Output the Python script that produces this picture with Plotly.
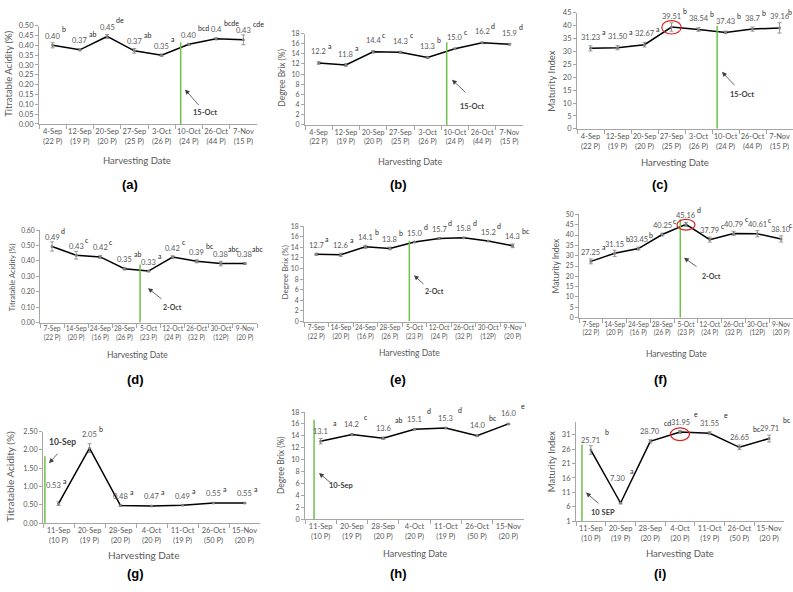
import plotly.graph_objects as go

W, H = 793, 592

# ---------------- data ----------------
row1_dates = ["4-Sep", "12-Sep", "20-Sep", "27-Sep", "3-Oct", "10-Oct", "26-Oct", "7-Nov"]
row1_plants = ["22 P", "19 P", "20 P", "25 P", "26 P", "24 P", "44 P", "15 P"]
row2_dates = ["7-Sep", "14-Sep", "24-Sep", "28-Sep", "5-Oct", "12-Oct", "26-Oct", "30-Oct", "9-Nov"]
row2_plants = ["22 P", "20 P", "16 P", "26 P", "23 P", "24 P", "32 P", "12P", "20 P"]
row3_dates = ["11-Sep", "20-Sep", "28-Sep", "4-Oct", "11-Oct", "26-Oct", "15-Nov"]
row3_plants = ["10 P", "19 P", "20 P", "20 P", "19 P", "50 P", "20 P"]

a_values = [0.40, 0.377, 0.445, 0.372, 0.350, 0.405, 0.433, 0.428]
a_errors = [0.013, 0.005, 0.010, 0.012, 0.006, 0.005, 0.005, 0.025]
a_labels = ["0.40", "0.37", "0.45", "0.37", "0.35", "0.40", "0.4", "0.43"]
a_letters = ["b", "ab", "de", "ab", "a", "bcd", "bcde", "cde"]

b_values = [12.2, 11.8, 14.4, 14.3, 13.3, 15.0, 16.2, 15.9]
b_errors = [0.25, 0.25, 0.25, 0.2, 0.2, 0.1, 0.1, 0.15]
b_labels = ["12.2", "11.8", "14.4", "14.3", "13.3", "15.0", "16.2", "15.9"]
b_letters = ["a", "a", "c", "c", "b", "c", "d", "d"]

c_values = [31.23, 31.50, 32.67, 39.51, 38.54, 37.43, 38.7, 39.16]
c_errors = [1.0, 0.8, 0.9, 1.6, 0.7, 0.5, 0.8, 2.0]
c_labels = ["31.23", "31.50", "32.67", "39.51", "38.54", "37.43", "38.7", "39.16"]
c_letters = ["a", "a", "a", "b", "b", "b", "b", "b"]

d_values = [0.494, 0.437, 0.426, 0.349, 0.334, 0.425, 0.398, 0.383, 0.383]
d_errors = [0.03, 0.025, 0.01, 0.008, 0.005, 0.008, 0.01, 0.015, 0.005]
d_labels = ["0.49", "0.43", "0.42", "0.35", "0.33", "0.42", "0.39", "0.38", "0.38"]
d_letters = ["d", "c", "c", "ab", "a", "c", "bc", "abc", "abc"]

e_values = [12.7, 12.6, 14.1, 13.8, 15.0, 15.7, 15.8, 15.2, 14.3]
e_errors = [0.2, 0.3, 0.3, 0.25, 0.1, 0.15, 0.1, 0.1, 0.35]
e_labels = ["12.7", "12.6", "14.1", "13.8", "15.0", "15.7", "15.8", "15.2", "14.3"]
e_letters = ["a", "a", "b", "b", "d", "d", "d", "d", "bc"]

f_values = [27.25, 31.15, 33.45, 40.25, 45.16, 37.79, 40.79, 40.61, 38.10]
f_errors = [1.2, 1.5, 0.7, 0.7, 1.0, 1.2, 1.0, 1.5, 1.5]
f_labels = ["27.25", "31.15", "33.45", "40.25", "45.16", "37.79", "40.79", "40.61", "38.10"]
f_letters = ["a", "b", "b", "c", "d", "c", "c", "c", "c"]

g_values = [0.53, 2.05, 0.48, 0.47, 0.49, 0.55, 0.55]
g_errors = [0.05, 0.12, 0.02, 0.01, 0.01, 0.01, 0.01]
g_labels = ["0.53", "2.05", "0.48", "0.47", "0.49", "0.55", "0.55"]
g_letters = ["a", "b", "a", "a", "a", "a", "a"]

h_values = [13.1, 14.2, 13.6, 15.1, 15.3, 14.0, 16.0]
h_errors = [0.45, 0.15, 0.2, 0.1, 0.1, 0.1, 0.1]
h_labels = ["13.1", "14.2", "13.6", "15.1", "15.3", "14.0", "16.0"]
h_letters = ["a", "c", "ab", "d", "d", "bc", "e"]

i_values = [25.71, 7.30, 28.70, 31.95, 31.55, 26.65, 29.71]
i_errors = [1.5, 0.3, 0.6, 0.5, 0.5, 0.8, 1.2]
i_labels = ["25.71", "7.30", "28.70", "31.95", "31.55", "26.65", "29.71"]
i_letters = ["b", "a", "cd", "e", "e", "bc", "bc"]

TA = "Titratable Acidity (%)"
BX = "Degree Brix (%)"
MI = "Maturity Index"

# ---------------- panel layout config ----------------
panels = [
    dict(tag="(a)", dates=row1_dates, plants=row1_plants, vals=a_values, errs=a_errors, labels=a_labels, letters=a_letters,
         dom=(39, 257, 21, 121), yr=(0, 0.5), dt=0.05, t0=0, fmt=".2f", yt=TA, ytp=(9, 70), yts=9.5,
         xtp=(137, 158), xts=9.5, tks=7.5, ytks=7.5, vy=9, ly=16, lx=0, green=(4.7, 0.415),
         arrow=((185, 86), (200, 103)), note=("15-Oct", (205, 109), 7.5), circle=None, pl=(130, 183),
         vover={}, lover={}),
    dict(tag="(b)", dates=row1_dates, plants=row1_plants, vals=b_values, errs=b_errors, labels=b_labels, letters=b_letters,
         dom=(305, 523, 29, 122), yr=(0, 18), dt=2, t0=0, fmt="d", yt=BX, ytp=(282, 74), yts=8.5,
         xtp=(410, 159), xts=9, tks=7.2, ytks=7, vy=11, ly=17, lx=0, green=(4.7, 16.3),
         arrow=((452, 76), (467, 90)), note=("15-Oct", (472, 103), 7.5), circle=None, pl=(398, 183),
         vover={}, lover={}),
    dict(tag="(c)", dates=row1_dates, plants=row1_plants, vals=c_values, errs=c_errors, labels=c_labels, letters=c_letters,
         dom=(577, 793, 8, 126), yr=(0, 45), dt=5, t0=0, fmt="d", yt=MI, ytp=(552, 78), yts=9.5,
         xtp=(675, 160), xts=9.5, tks=7.5, ytks=7.5, vy=11, ly=16, lx=0, green=(4.69, 40),
         arrow=((722, 68), (736, 83)), note=("15-Oct", (742, 91), 7.5), circle=(3, 39.4, 0.36, 2.6), pl=(660, 183),
         vover={}, lover={7: -3}),
    dict(tag="(d)", dates=row2_dates, plants=row2_plants, vals=d_values, errs=d_errors, labels=d_labels, letters=d_letters,
         dom=(40, 257, 229, 323), yr=(0, 0.6), dt=0.1, t0=0, fmt=".2f", yt=TA, ytp=(12, 277), yts=7.5,
         xtp=(137, 356), xts=8.5, tks=6.6, ytks=6.8, vy=9, ly=15, lx=0, green=(3.65, 0.377),
         arrow=((148, 288), (163, 300)), note=("2-Oct", (172, 307), 7), circle=None, pl=(135, 381),
         vover={}, lover={7: -2, 8: -2}),
    dict(tag="(e)", dates=row2_dates, plants=row2_plants, vals=e_values, errs=e_errors, labels=e_labels, letters=e_letters,
         dom=(304, 525, 225, 322), yr=(0, 18), dt=2, t0=0, fmt="d", yt=BX, ytp=(285, 272), yts=8,
         xtp=(409, 354), xts=8.5, tks=6.6, ytks=6.8, vy=9, ly=15, lx=0, green=(3.79, 15.2),
         arrow=((414, 275), (425, 285)), note=("2-Oct", (434, 291), 7), circle=None, pl=(398, 381),
         vover={}, lover={}),
    dict(tag="(f)", dates=row2_dates, plants=row2_plants, vals=f_values, errs=f_errors, labels=f_labels, letters=f_letters,
         dom=(579, 793, 213, 318), yr=(0, 50), dt=5, t0=0, fmt="d", yt=MI, ytp=(556, 265), yts=8.5,
         xtp=(676, 355), xts=8.5, tks=6.6, ytks=6.8, vy=9, ly=14, lx=0, green=(3.76, 47.6),
         arrow=((684, 257), (698, 267)), note=("2-Oct", (711, 276), 7), circle=(4, 45.0, 0.38, 2.6), pl=(660, 381),
         vover={}, lover={8: -3}),
    dict(tag="(g)", dates=row3_dates, plants=row3_plants, vals=g_values, errs=g_errors, labels=g_labels, letters=g_letters,
         dom=(43, 260, 434, 527), yr=(0, 2.5), dt=0.5, t0=0, fmt=".2f", yt=TA, ytp=(10, 480), yts=10,
         xtp=(143, 559), xts=10, tks=7.5, ytks=7.2, vy=9, ly=14, lx=0, green=(-0.44, 1.83),
         arrow=((49, 466), (59, 455)), note=("10-Sep", (62, 444), 8.5), circle=None, pl=(135, 578),
         vover={0: (-5, 18), 1: (0, 14)}, lover={}),
    dict(tag="(h)", dates=row3_dates, plants=row3_plants, vals=h_values, errs=h_errors, labels=h_labels, letters=h_letters,
         dom=(305, 524, 414, 523), yr=(0, 18), dt=2, t0=0, fmt="d", yt=BX, ytp=(281, 468), yts=8.5,
         xtp=(415, 558), xts=9, tks=7.5, ytks=7.2, vy=10, ly=18, lx=3, green=(-0.21, 16.7),
         arrow=((319, 476), (332, 487)), note=("10-Sep", (341, 489), 7.5), circle=None, pl=(398, 578),
         vover={}, lover={}),
    dict(tag="(i)", dates=row3_dates, plants=row3_plants, vals=i_values, errs=i_errors, labels=i_labels, letters=i_letters,
         dom=(576, 784, 424, 525), yr=(1, 35.5), dt=5, t0=1, fmt="d", yt=MI, ytp=(551, 465), yts=9.5,
         xtp=(680, 558), xts=9.5, tks=7.5, ytks=7.5, vy=10, ly=18, lx=3, green=(-0.30, 27.6),
         arrow=((586, 496), (600, 508)), note=("10 SEP", (603, 516), 7.5), circle=(3, 31.2, 0.32, 2.2), pl=(660, 578),
         vover={1: (-3, 24)}, lover={}),
]

FONT = "Lato, Carlito, sans-serif"
GRAY = "#595959"
AXC = "#a6a6a6"
GREEN = "#70c04a"

fig = go.Figure()
annotations = []
shapes = []
layout = {}

for k, p in enumerate(panels):
    n = len(p["dates"])
    sfx = "" if k == 0 else str(k + 1)
    xref, yref = "x" + sfx, "y" + sfx
    cats = [f"{d}<br>({pl})" for d, pl in zip(p["dates"], p["plants"])]
    x0, x1, y0, y1 = p["dom"]

    fig.add_trace(go.Scatter(
        x=cats, y=p["vals"], xaxis=xref, yaxis=yref, mode="lines+markers",
        line=dict(color="black", width=1.5),
        marker=dict(size=3, color="#7f7f7f"),
        error_y=dict(type="data", array=p["errs"], color="#7f7f7f", thickness=0.8, width=2),
        hoverinfo="skip", showlegend=False))

    layout["xaxis" + sfx] = dict(
        domain=[x0 / W, x1 / W], anchor=yref, type="category", range=[-0.5, n - 0.5],
        showline=True, linecolor=AXC, linewidth=1, ticks="outside", tickson="boundaries",
        ticklen=4, tickcolor=AXC, showgrid=False, zeroline=False, tickangle=0,
        tickfont=dict(family=FONT, size=p["tks"], color=GRAY), fixedrange=True)
    layout["yaxis" + sfx] = dict(
        domain=[1 - y1 / H, 1 - y0 / H], anchor=xref, range=list(p["yr"]),
        tick0=p["t0"], dtick=p["dt"], tickformat=p["fmt"],
        showline=True, linecolor=AXC, linewidth=1, ticks="outside", ticklen=3, tickcolor=AXC,
        showgrid=False, zeroline=False,
        tickfont=dict(family=FONT, size=p["ytks"], color=GRAY), fixedrange=True)

    # value labels and significance letters
    for j, (v, lab, let) in enumerate(zip(p["vals"], p["labels"], p["letters"])):
        vx, vy = p["vover"].get(j, (0, p["vy"]))
        annotations.append(dict(x=j, y=v, xref=xref, yref=yref, text=lab, showarrow=False,
                                xshift=vx, yshift=vy, xanchor="center", yanchor="middle",
                                font=dict(family=FONT, size=7.5, color=GRAY)))
        annotations.append(dict(x=j, y=v, xref=xref, yref=yref, text=let, showarrow=False,
                                xshift=vx + len(lab) * 1.8 + p["lx"] + p["lover"].get(j, 0),
                                yshift=vy + (p["ly"] - p["vy"]),
                                xanchor="left", yanchor="middle",
                                font=dict(family=FONT, size=7, color="#262626")))

    # green reference line
    gx, gtop = p["green"]
    shapes.append(dict(type="line", xref=xref, yref=yref, x0=gx, x1=gx, y0=p["yr"][0], y1=gtop,
                       line=dict(color=GREEN, width=1.5)))

    # red circle
    if p["circle"]:
        cx, cy, rx, ry = p["circle"]
        shapes.append(dict(type="circle", xref=xref, yref=yref, x0=cx - rx, x1=cx + rx,
                           y0=cy - ry, y1=cy + ry, line=dict(color="#e02020", width=1.2)))

    # arrow and note
    (hx, hy), (tx, ty) = p["arrow"]
    annotations.append(dict(x=hx / W, y=1 - hy / H, xref="paper", yref="paper", text="",
                            showarrow=True, ax=tx - hx, ay=ty - hy, arrowhead=2, arrowsize=1.2,
                            arrowwidth=0.8, arrowcolor="#404040", standoff=0, startstandoff=0))
    ntext, (nx, ny), nsz = p["note"]
    annotations.append(dict(x=nx / W, y=1 - ny / H, xref="paper", yref="paper", text=f"<b>{ntext}</b>",
                            showarrow=False, xanchor="center", yanchor="middle",
                            font=dict(family=FONT, size=nsz, color="#404040")))

    # axis titles
    ytx, yty = p["ytp"]
    annotations.append(dict(x=ytx / W, y=1 - yty / H, xref="paper", yref="paper", text=p["yt"],
                            showarrow=False, textangle=-90, xanchor="center", yanchor="middle",
                            font=dict(family=FONT, size=p["yts"], color=GRAY)))
    xtx, xty = p["xtp"]
    annotations.append(dict(x=xtx / W, y=1 - xty / H, xref="paper", yref="paper", text="Harvesting Date",
                            showarrow=False, xanchor="center", yanchor="middle",
                            font=dict(family=FONT, size=p["xts"], color=GRAY)))
    # panel tag
    plx, ply = p["pl"]
    annotations.append(dict(x=plx / W, y=1 - ply / H, xref="paper", yref="paper", text=f"<b>{p['tag']}</b>",
                            showarrow=False, xanchor="center", yanchor="middle",
                            font=dict(family="Liberation Sans, Arial, sans-serif", size=13, color="black")))

fig.update_layout(width=W, height=H, margin=dict(l=0, r=0, t=0, b=0, pad=0),
                  paper_bgcolor="white", plot_bgcolor="white", showlegend=False,
                  annotations=annotations, shapes=shapes, **layout)

fig.write_html("out.html")
